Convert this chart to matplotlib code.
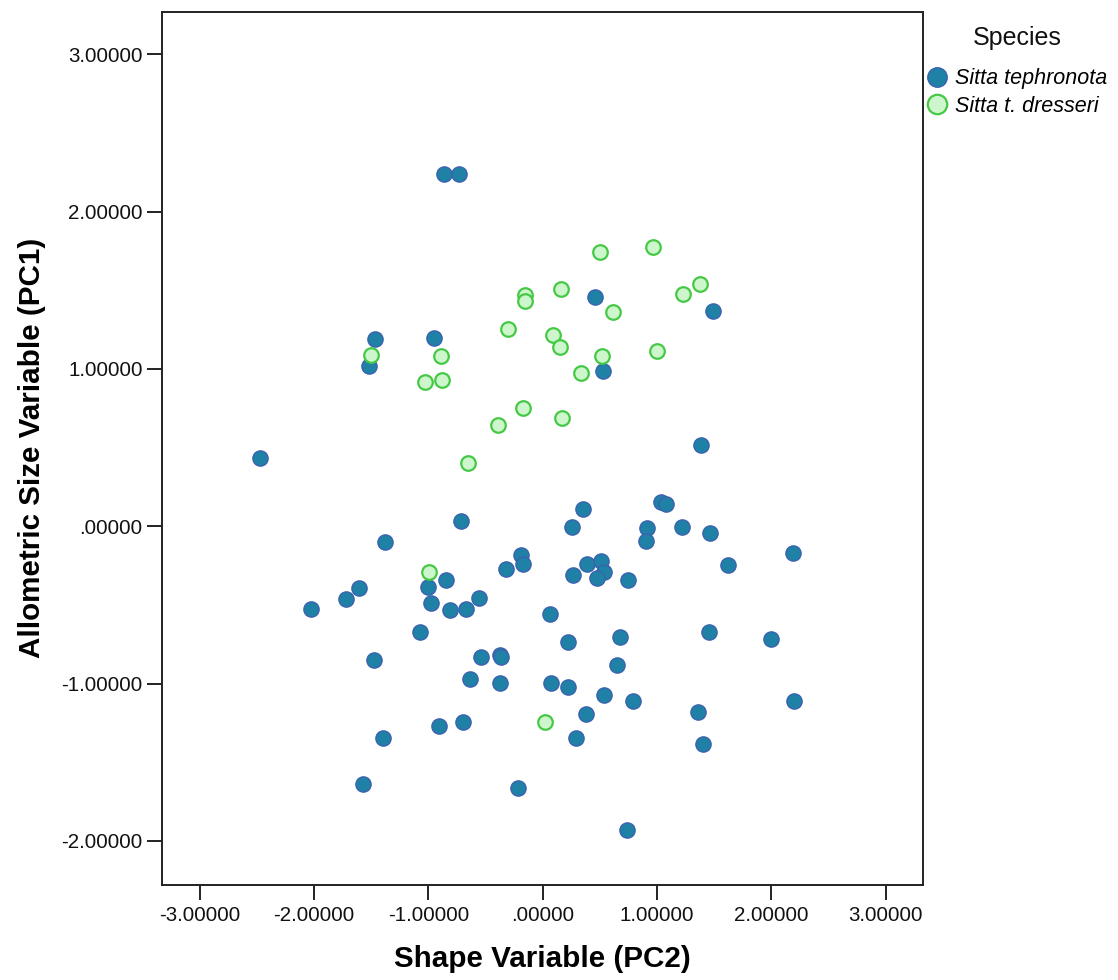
import matplotlib
matplotlib.use("Agg")
import matplotlib.pyplot as plt
from matplotlib.lines import Line2D
from matplotlib.ticker import FixedLocator, FuncFormatter

plt.rcParams['font.family'] = ['Liberation Sans', 'DejaVu Sans']

# Sitta tephronota (blue filled)
teph_x = [-0.863, -0.729, -1.464, -0.956, -1.522, -2.474, 0.460, 1.487, 0.524, 1.386,
          -0.714, -1.377, -0.848, -1.000, -0.979, -1.605, -1.721, -2.030, -0.816, -0.670,
          -0.554, -0.194, -0.173, -0.320, -1.073, -1.473, -0.541, -0.378, -0.366, -0.635,
          -0.372, -0.904, -0.702, -1.397, -1.572, -0.217, 0.352, 1.035, 1.076, 0.256,
          0.909, 0.904, 1.219, 1.467, 2.191, 1.622, 0.390, 0.512, 0.536, 0.475,
          0.261, 0.743, 0.063, 0.221, 0.673, 1.450, 1.993, 0.646, 0.068, 0.221,
          0.539, 0.793, 2.200, 0.378, 1.356, 0.293, 1.400, 0.740]
teph_y = [2.237, 2.241, 1.193, 1.199, 1.021, 0.433, 1.456, 1.367, 0.987, 0.517,
          0.034, -0.099, -0.342, -0.387, -0.485, -0.391, -0.461, -0.525, -0.533, -0.525,
          -0.459, -0.186, -0.241, -0.273, -0.673, -0.853, -0.832, -0.821, -0.834, -0.974,
          -0.995, -1.270, -1.245, -1.349, -1.637, -1.664, 0.111, 0.151, 0.142, -0.008,
          -0.010, -0.097, -0.004, -0.042, -0.173, -0.247, -0.239, -0.222, -0.294, -0.328,
          -0.313, -0.342, -0.557, -0.734, -0.703, -0.671, -0.717, -0.882, -0.999, -1.022,
          -1.073, -1.111, -1.109, -1.192, -1.179, -1.346, -1.381, -1.931]

# Sitta t. dresseri (green open)
dres_x = [-0.159, -0.159, -0.300, -1.505, -0.889, -1.032, -0.883, -0.177, -0.392, -0.653,
          0.504, 0.968, 0.159, 0.611, 1.228, 1.371, 0.086, 0.153, 0.521, 0.335,
          1.000, 0.165, -0.992, 0.022]
dres_y = [1.468, 1.434, 1.252, 1.087, 1.083, 0.919, 0.932, 0.752, 0.644, 0.401,
          1.745, 1.773, 1.510, 1.364, 1.478, 1.540, 1.216, 1.138, 1.081, 0.975,
          1.116, 0.691, -0.294, -1.243]

species = ['Sitta tephronota', 'Sitta t. dresseri']
legend_title = 'Species'
ticks = [-3, -2, -1, 0, 1, 2, 3]

blue_face, blue_edge = '#1f81a6', '#3b62ad'
green_face, green_edge = '#cdf6cd', '#45c945'

fig = plt.figure(figsize=(11.18, 9.80), dpi=100)
ax = fig.add_axes([0.145, 0.097, 0.681, 0.891])

ax.scatter(teph_x, teph_y, s=120, c=blue_face, edgecolors=blue_edge, linewidths=1.0, zorder=3)
ax.scatter(dres_x, dres_y, s=110, c=green_face, edgecolors=green_edge, linewidths=1.6, zorder=3)

ax.set_xlim(-3.33, 3.33)
ax.set_ylim(-2.28, 3.27)
ax.xaxis.set_major_locator(FixedLocator(ticks))
ax.yaxis.set_major_locator(FixedLocator(ticks[1:]))

def fmt(v, pos):
    s = f"{v:.5f}"
    if s.startswith("0."):
        s = s[1:]
    return s

ax.xaxis.set_major_formatter(FuncFormatter(fmt))
ax.yaxis.set_major_formatter(FuncFormatter(fmt))

for sp in ax.spines.values():
    sp.set_linewidth(1.4)
    sp.set_color('#222222')
ax.tick_params(axis='both', direction='out', length=10.5, width=1.4, color='#222222',
               labelsize=14.8, labelcolor='#111111')
ax.tick_params(axis='x', pad=5)
ax.tick_params(axis='y', pad=3.5)

ax.set_xlabel('Shape Variable (PC2)', fontsize=21.3, fontweight='bold', labelpad=14)
ax.set_ylabel('Allometric Size Variable (PC1)', fontsize=21.3, fontweight='bold', labelpad=11)

handles = [
    Line2D([], [], marker='o', linestyle='none', markersize=14, markerfacecolor=blue_face,
           markeredgecolor=blue_edge, markeredgewidth=1.0),
    Line2D([], [], marker='o', linestyle='none', markersize=14, markerfacecolor=green_face,
           markeredgecolor=green_edge, markeredgewidth=1.6),
]
fig.text(1017 / 1118, 1 - 38 / 980, legend_title, fontsize=18, ha='center', va='center',
         color='#111111')
leg = ax.legend(handles, species, loc='upper left',
                bbox_to_anchor=(0.812, 0.950), bbox_transform=fig.transFigure,
                frameon=False, prop={'size': 15.5, 'style': 'italic'},
                handlelength=0.9, handletextpad=0.4,
                labelspacing=0.29, borderpad=0.4)

fig.savefig('out.png', dpi=100)
